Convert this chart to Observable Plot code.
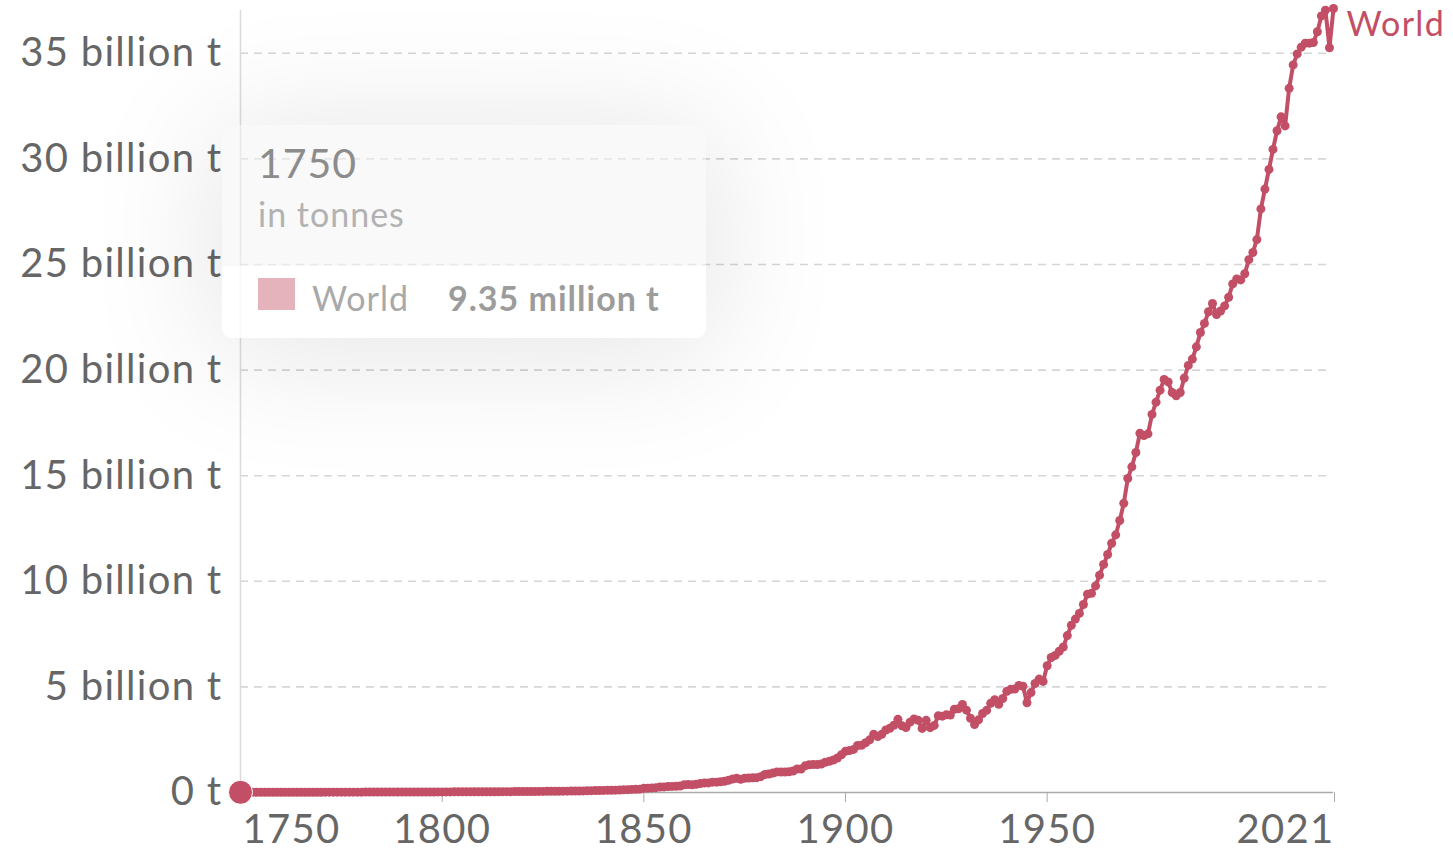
<!DOCTYPE html>
<html>
<head>
<meta charset="utf-8">
<script src="https://cdn.jsdelivr.net/npm/d3@7"></script>
<script src="https://cdn.jsdelivr.net/npm/@observablehq/plot@0.6"></script>
<style>
  html, body { margin: 0; padding: 0; background: #fff; }
  #wrap { position: relative; width: 1453px; height: 852px; overflow: hidden; font-family: Lato, sans-serif; }
  #tip { position: absolute; left: 222px; top: 125px; width: 484px; height: 213px; border-radius: 10px;
         box-shadow: 0 10px 130px 10px rgba(0,0,0,0.10); overflow: hidden; }
  #tip svg { display: block; }
</style>
</head>
<body>
<div id="wrap">
  <div id="chart"></div>
  <div id="tip"></div>
</div>
<script>
// ---- Data: annual world CO2 emissions, million tonnes, 1750–2021 ----
const startYear = 1750;
const endYear = 2021;
const emissions1750s = [9.35, 9.35, 9.35, 9.35, 9.36, 9.36, 9.74, 9.74, 9.75, 9.76];
const emissions1760s = [10.05, 10.06, 10.43, 10.43, 10.44, 10.81, 10.82, 11.19, 11.57, 11.95];
const emissions1770s = [14.18, 14.55, 14.93, 14.94, 15.31, 15.69, 16.07, 16.44, 16.82, 17.20];
const emissions1780s = [17.59, 17.96, 18.35, 18.73, 19.11, 19.54, 19.93, 20.32, 21.09, 21.48];
const emissions1790s = [22.81, 22.83, 23.21, 23.60, 23.99, 24.37, 24.76, 25.15, 25.54, 27.34];
const emissions1800s = [28.06, 28.62, 29.31, 29.73, 30.81, 30.87, 32.45, 33.29, 33.71, 34.58];
const emissions1810s = [35.03, 35.76, 36.59, 36.23, 36.66, 40.11, 39.13, 41.02, 42.59, 42.34];
const emissions1820s = [43.66, 45.30, 46.78, 49.07, 50.64, 53.03, 54.18, 56.94, 59.73, 59.80];
const emissions1830s = [62.53, 63.85, 66.12, 67.26, 70.15, 75.30, 82.05, 86.20, 90.75, 94.10];
const emissions1840s = [97.70, 104.3, 107.2, 109.5, 114.6, 125.3, 134.0, 145.9, 148.1, 159.6];
const emissions1850s = [196.9, 204.0, 218.2, 230.3, 262.1, 265.3, 283.5, 288.3, 290.7, 308.3];
const emissions1860s = [361.6, 375.8, 367.4, 393.1, 423.7, 445.6, 454.3, 489.0, 488.8, 510.1];
const emissions1870s = [531.3, 579.2, 633.5, 671.3, 628.1, 677.0, 686.6, 700.4, 703.7, 751.0];
const emissions1880s = [853.7, 877.4, 923.6, 975.4, 972.6, 970.8, 978.6, 1020, 1110, 1109];
const emissions1890s = [1263, 1310, 1320, 1320, 1346, 1434, 1475, 1540, 1636, 1790];
const emissions1900s = [1951, 1983, 2040, 2223, 2238, 2357, 2494, 2760, 2654, 2754];
const emissions1910s = [2958, 3042, 3184, 3464, 3158, 3075, 3330, 3484, 3422, 3035];
const emissions1920s = [3418, 3069, 3177, 3630, 3613, 3678, 3664, 3942, 3963, 4170];
const emissions1930s = [3900, 3518, 3218, 3440, 3740, 3890, 4220, 4390, 4180, 4450];
const emissions1940s = [4790, 4890, 4900, 5070, 5030, 4250, 4730, 5160, 5370, 5260];
const emissions1950s = [6000, 6390, 6490, 6690, 6890, 7430, 7920, 8210, 8480, 8900];
const emissions1960s = [9390, 9430, 9780, 10290, 10800, 11270, 11800, 12200, 12880, 13690];
const emissions1970s = [14870, 15420, 16100, 17010, 16900, 16980, 17900, 18480, 19050, 19560];
const emissions1980s = [19440, 18940, 18780, 18940, 19620, 20220, 20520, 21100, 21780, 22210];
const emissions1990s = [22760, 23150, 22630, 22800, 23040, 23450, 24080, 24310, 24270, 24560];
const emissions2000s = [25230, 25570, 26180, 27630, 28570, 29500, 30450, 31330, 31990, 31560];
const emissions2010s = [33340, 34450, 34970, 35290, 35480, 35480, 35510, 36020, 36770, 37040];
const emissions2020s = [35260, 37120];

const seriesName = "World";
const yTicks = [0, 5, 10, 15, 20, 25, 30, 35];
const xTicks = [1750, 1800, 1850, 1900, 1950, 2021];
const tooltipYear = "1750";
const tooltipUnit = "in tonnes";
const tooltipValue = "9.35 million t";

const allMt = [].concat(
  emissions1750s, emissions1760s, emissions1770s, emissions1780s, emissions1790s,
  emissions1800s, emissions1810s, emissions1820s, emissions1830s, emissions1840s,
  emissions1850s, emissions1860s, emissions1870s, emissions1880s, emissions1890s,
  emissions1900s, emissions1910s, emissions1920s, emissions1930s, emissions1940s,
  emissions1950s, emissions1960s, emissions1970s, emissions1980s, emissions1990s,
  emissions2000s, emissions2010s, emissions2020s);
const data = allMt.map((v, i) => ({year: startYear + i, value: v / 1000}));

const color = "#c24f66";
const W = 1453, H = 852;
const axisFont = 40;
const axisSpacing = "1.3px";

const chart = Plot.plot({
  width: W,
  height: H,
  marginLeft: 240,
  marginRight: 120,
  marginTop: 8,
  marginBottom: 60,
  style: {fontFamily: "Lato, sans-serif", color: "#666", background: "white", overflow: "visible"},
  x: {domain: [startYear, endYear], label: null},
  y: {domain: [0, 37.12], label: null},
  marks: [
    Plot.ruleY(yTicks.filter(d => d > 0), {stroke: "#d6d6d6", strokeWidth: 1.6, strokeDasharray: "8,6", insetRight: 3}),
    Plot.ruleX([startYear], {stroke: "#dcdcdc", strokeWidth: 1.6, insetTop: 2, insetBottom: -12}),
    Plot.ruleY([0], {stroke: "#aaa", strokeWidth: 1.6}),
    Plot.axisY(yTicks, {tickSize: 0, tickPadding: 18, fontSize: axisFont, fill: "#666",
      tickFormat: d => d === 0 ? "0 t" : `${d} billion t`, label: null}),
    Plot.axisX(xTicks.slice(1, -1), {tickSize: 10, tickPadding: 12, fontSize: axisFont, fill: "#666", stroke: "#aaa",
      tickFormat: d => String(d), label: null}),
    Plot.axisX([xTicks[0]], {tickSize: 0, tickPadding: 22, fontSize: axisFont, fill: "#666", textAnchor: "start", dx: 2,
      tickFormat: d => String(d), label: null}),
    Plot.axisX([xTicks[xTicks.length - 1]], {tickSize: 10, tickPadding: 12, fontSize: axisFont, fill: "#666", stroke: "#aaa", textAnchor: "end", dx: 1,
      tickFormat: d => String(d), label: null}),
    Plot.line(data, {x: "year", y: "value", stroke: color, strokeWidth: 4}),
    Plot.dot(data, {x: "year", y: "value", r: 4.5, fill: color}),
    Plot.dot([data[0]], {x: "year", y: "value", r: 12, fill: color, stroke: "white", strokeWidth: 1}),
    Plot.text([data[data.length - 1]], {x: "year", y: "value", text: () => seriesName, textAnchor: "start",
      dx: 13, dy: 17, fontSize: 34, fill: color})
  ]
});
d3.select(chart).selectAll("text").style("letter-spacing", axisSpacing);
document.getElementById("chart").appendChild(chart);

// ---- Tooltip overlay ----
const tip = d3.select("#tip").append("svg").attr("width", 484).attr("height", 213)
  .style("font-family", "Lato, sans-serif").style("letter-spacing", "1px");
tip.append("rect").attr("x", 0).attr("y", 0).attr("width", 484).attr("height", 141).attr("fill", "rgba(244,244,244,0.55)");
tip.append("rect").attr("x", 0).attr("y", 141).attr("width", 484).attr("height", 72).attr("fill", "rgba(255,255,255,0.8)");
tip.append("text").attr("x", 36).attr("y", 53).attr("font-size", 41).attr("fill", "#8c8c8c").text(tooltipYear);
tip.append("text").attr("x", 36).attr("y", 102).attr("font-size", 34).attr("fill", "#b2b2b2").text(tooltipUnit);
tip.append("rect").attr("x", 36).attr("y", 153).attr("width", 37).attr("height", 32).attr("fill", "#e4b3bc");
tip.append("text").attr("x", 90).attr("y", 186).attr("font-size", 34).attr("fill", "#a9a9a9").text(seriesName);
tip.append("text").attr("x", 226).attr("y", 186).attr("font-size", 34).attr("font-weight", "bold").attr("fill", "#9c9c9c").text(tooltipValue);
</script>
</body>
</html>
